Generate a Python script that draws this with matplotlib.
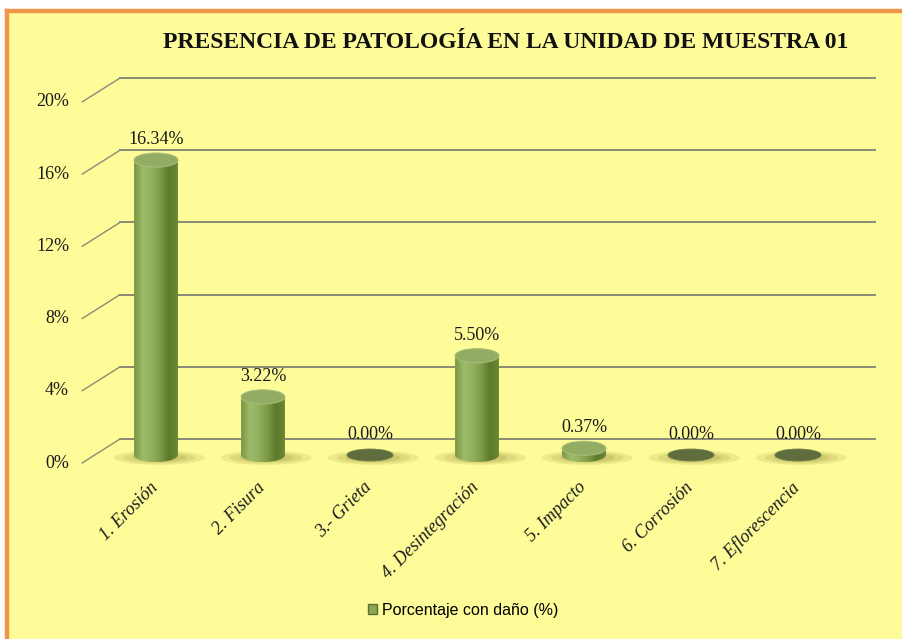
import matplotlib
matplotlib.use("Agg")
import matplotlib.pyplot as plt
import numpy as np
from matplotlib.patches import Ellipse, PathPatch, Patch
from matplotlib.path import Path
from matplotlib.colors import LinearSegmentedColormap
from matplotlib.lines import Line2D
from matplotlib.transforms import offset_copy

# datos
categorias = ["1. Erosión", "2. Fisura", "3.- Grieta", "4. Desintegración",
              "5. Impacto", "6. Corrosión", "7. Eflorescencia"]
porcentajes = [16.34, 3.22, 0.00, 5.50, 0.37, 0.00, 0.00]
ticks_y = [0, 4, 8, 12, 16, 20]
titulo = "PRESENCIA DE PATOLOGÍA EN LA UNIDAD DE MUESTRA 01"
leyenda = "Porcentaje con daño (%)"

FONDO = "#fdfc98"
NARANJA = "#ef9648"
GRID = "#8a8a78"
SERIF = "Liberation Serif"


def main():
    fig = plt.figure(figsize=(9.02, 6.39), dpi=100, facecolor="white")
    # fondo amarillo con borde naranja arriba e izquierda
    fig.patches.append(plt.Rectangle((7 / 902, 0), 1, 1 - 11 / 639, transform=fig.transFigure,
                                     facecolor=FONDO, edgecolor="none", zorder=-10))
    fig.add_artist(Line2D([7 / 902, 1], [1 - 10.5 / 639] * 2, color=NARANJA, lw=3.2))
    fig.add_artist(Line2D([7.5 / 902] * 2, [0, 1 - 10.5 / 639], color=NARANJA, lw=3.2))

    ax = fig.add_axes([60 / 902, 1 - 470 / 639, 820 / 902, 410 / 639])
    ax.set_facecolor("none")
    ax.axis("off")

    back = offset_copy(ax.transData, fig, x=0, y=16, units="dots")
    front_lbl = offset_copy(ax.transData, fig, x=-51, y=-8, units="dots")
    x_pared = -0.336
    x_fin = 6.72

    # rejilla con pared lateral en perspectiva
    for t in ticks_y:
        ax.plot([x_pared, x_fin], [t, t], color=GRID, lw=1.4, transform=back, zorder=1)
        ax.annotate("", xy=(x_pared, t), xycoords=back,
                    xytext=(-38 * 0.72, -24 * 0.72), textcoords="offset points",
                    arrowprops=dict(arrowstyle="-", color=GRID, lw=1.0,
                                    shrinkA=0, shrinkB=0))
        ax.text(x_pared, t, f"{t}%", transform=front_lbl, ha="right", va="center",
                fontsize=13, family=SERIF, color="#1a1a1a")

    cmap = LinearSegmentedColormap.from_list(
        "cil", ["#7a9746", "#9dbb69", "#93b15d", "#7d9b48", "#5d7a2c", "#6a8736"])
    w = 0.41
    eh = 0.78
    grad = np.linspace(0, 1, 80).reshape(1, -1)
    xs = np.arange(len(categorias))

    for x, v in zip(xs, porcentajes):
        # sombra
        for k, a in zip([1.0, 0.8, 0.6], [0.18, 0.22, 0.3]):
            ax.add_patch(Ellipse((x + 0.03, -0.15), 0.85 * k, 0.8 * k, facecolor="#a9a14a",
                                 edgecolor="none", alpha=a, zorder=2))
        if v <= 0:
            ax.add_patch(Ellipse((x, 0), w * 1.05, eh * 0.85, facecolor="#5f6d3d",
                                 edgecolor="#6e7c48", lw=0.6, zorder=3))
        else:
            t = np.linspace(np.pi, 2 * np.pi, 40)
            verts = [(x - w / 2, v), (x - w / 2, 0)]
            verts += list(zip(x + w / 2 * np.cos(t), eh / 2 * np.sin(t)))
            verts += [(x + w / 2, v), (x - w / 2, v)]
            cuerpo = PathPatch(Path(verts), transform=ax.transData)
            im = ax.imshow(grad, cmap=cmap, extent=[x - w / 2, x + w / 2, -eh / 2, v],
                           aspect="auto", zorder=3, interpolation="bilinear")
            im.set_clip_path(cuerpo)
            ax.add_patch(Ellipse((x, v), w, eh, facecolor="#93ab62",
                                 edgecolor="#a6bd78", lw=0.8, zorder=4))
        lbl = offset_copy(ax.transData, fig, x=0, y=12, units="dots")
        ax.text(x, v, f"{v:.2f}%", transform=lbl, ha="center", va="bottom",
                fontsize=13, family=SERIF, color="#1a1a1a", zorder=5)

    # etiquetas de categoria
    cat_tr = offset_copy(ax.transData, fig, x=5, y=-24, units="dots")
    for x, c in zip(xs, categorias):
        ax.text(x, 0, c, transform=cat_tr, rotation=45, ha="right", va="top",
                fontsize=13, family=SERIF, style="italic", color="#1a1a1a")

    ax.set_xlim((60 - 156) / 107, (880 - 156) / 107)
    ax.set_ylim((455 - 470) / 18.05, (455 - 60) / 18.05)

    fig.text(506 / 902, 1 - 42 / 639, titulo, ha="center", va="center",
             fontsize=17, fontweight="bold", family=SERIF, color="#111111")

    fig.legend(handles=[Patch(facecolor="#8aa755", edgecolor="#5a7030", label=leyenda)],
               loc="center", bbox_to_anchor=(463 / 902, 1 - 610 / 639), frameon=False,
               handlelength=0.6, handleheight=0.6, handletextpad=0.3,
               prop={"family": "Liberation Sans", "size": 11.5})

    fig.savefig("out.png", dpi=100, facecolor="white")


if __name__ == "__main__":
    main()
